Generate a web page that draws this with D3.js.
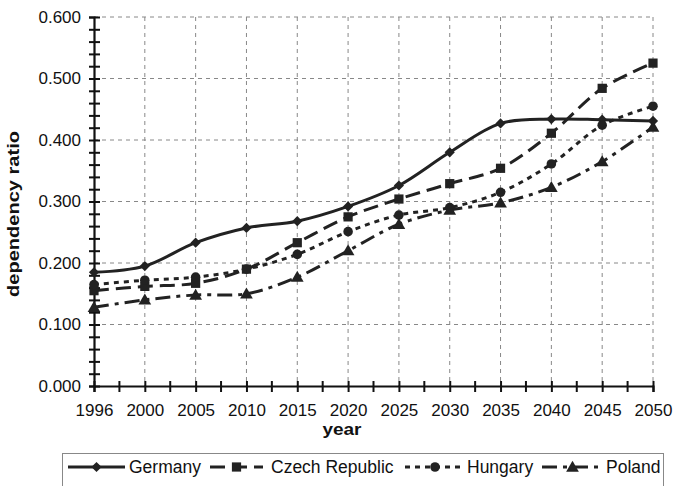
<!DOCTYPE html>
<html>
<head>
<meta charset="utf-8">
<script src="https://cdn.jsdelivr.net/npm/d3@7"></script>
<style>
  body { margin: 0; background: #fff; }
  text { font-family: "Liberation Sans", Arial, sans-serif; fill: #111; }
</style>
</head>
<body>
<div id="chart"></div>
<script>
// values
var years = ["1996", "2000", "2005", "2010", "2015", "2020", "2025", "2030", "2035", "2040", "2045", "2050"];
var germany = [0.185, 0.195, 0.233, 0.257, 0.268, 0.292, 0.326, 0.380, 0.427, 0.434, 0.433, 0.431];
var czech   = [0.155, 0.162, 0.167, 0.190, 0.233, 0.275, 0.304, 0.329, 0.354, 0.411, 0.484, 0.525];
var hungary = [0.165, 0.172, 0.177, 0.190, 0.214, 0.251, 0.278, 0.290, 0.315, 0.361, 0.424, 0.455];
var poland  = [0.128, 0.140, 0.148, 0.150, 0.177, 0.220, 0.263, 0.286, 0.298, 0.323, 0.365, 0.421];
var names = ["Germany", "Czech Republic", "Hungary", "Poland"];
var yTicks = [0, 0.1, 0.2, 0.3, 0.4, 0.5, 0.6];

var width = 673, height = 486;

var series = [
  { name: names[0], values: germany, dash: null, sym: "diamond" },
  { name: names[1], values: czech, dash: "15,7", sym: "square" },
  { name: names[2], values: hungary, dash: "5,5", sym: "circle" },
  { name: names[3], values: poland, dash: "15,6,4,6", sym: "triangle" }
];

var svg = d3.select("#chart").append("svg")
  .attr("width", width)
  .attr("height", height);

var x = d3.scalePoint().domain(years).range([94, 653]);
var y = d3.scaleLinear().domain([0, 0.6]).range([386, 17]);

// grid
var grid = svg.append("g");
grid.selectAll("line.h")
  .data(yTicks.slice(1))
  .enter().append("line")
  .attr("x1", x(years[0])).attr("x2", x(years[years.length - 1]))
  .attr("y1", function(d) { return y(d); })
  .attr("y2", function(d) { return y(d); })
  .attr("stroke", "#888").attr("stroke-width", 1)
  .attr("stroke-dasharray", "4,4");
grid.selectAll("line.v")
  .data(years.slice(1))
  .enter().append("line")
  .attr("x1", function(d) { return x(d); })
  .attr("x2", function(d) { return x(d); })
  .attr("y1", y(0.6)).attr("y2", y(0))
  .attr("stroke", "#888").attr("stroke-width", 1)
  .attr("stroke-dasharray", "4,4");

// y axis
var minorY = d3.range(0, 31).map(function(i) { return i * 0.02; });
var yAxis = svg.append("g")
  .attr("transform", "translate(" + x(years[0]) + ",0)")
  .call(d3.axisLeft(y).tickValues(minorY).tickSize(5).tickPadding(8)
    .tickFormat(function(d) {
      var r = Math.round(d * 50);
      return r % 5 === 0 ? d3.format(".3f")(d) : "";
    }));
yAxis.select(".domain").attr("stroke", "#111").attr("stroke-width", 2.2);
yAxis.selectAll(".tick line").attr("x1", -5).attr("x2", 6)
  .attr("stroke", "#111").attr("stroke-width", 2);
yAxis.selectAll(".tick text").attr("font-size", 17).attr("x", -13)
  .style("font-family", "'Liberation Sans', Arial, sans-serif").attr("fill", "#111");

// x axis
var xAxis = svg.append("g")
  .attr("transform", "translate(0," + y(0) + ")")
  .call(d3.axisBottom(x).tickSize(6).tickPadding(12));
xAxis.select(".domain").attr("stroke", "#111").attr("stroke-width", 2.2);
xAxis.selectAll(".tick line").attr("y1", -5).attr("y2", 6)
  .attr("stroke", "#111").attr("stroke-width", 2);
xAxis.selectAll(".tick text").attr("font-size", 17)
  .style("font-family", "'Liberation Sans', Arial, sans-serif").attr("fill", "#111");
var mids = d3.pairs(years).map(function(p) { return (x(p[0]) + x(p[1])) / 2; });
xAxis.selectAll("line.minor")
  .data(mids)
  .enter().append("line")
  .attr("x1", function(d) { return d; }).attr("x2", function(d) { return d; })
  .attr("y1", -5).attr("y2", 6)
  .attr("stroke", "#111").attr("stroke-width", 2);

// axis titles
svg.append("text")
  .attr("transform", "translate(19,214) rotate(-90)")
  .attr("text-anchor", "middle")
  .attr("font-size", 16).attr("font-weight", "bold")
  .attr("textLength", 166).attr("lengthAdjust", "spacingAndGlyphs")
  .text("dependency ratio");
svg.append("text")
  .attr("x", 342).attr("y", 435)
  .attr("text-anchor", "middle")
  .attr("font-size", 17).attr("font-weight", "bold")
  .attr("textLength", 39).attr("lengthAdjust", "spacingAndGlyphs")
  .text("year");

// markers
function marker(sel, sym, cx, cy) {
  if (sym === "diamond") {
    sel.append("path")
      .attr("d", d3.symbol().type(d3.symbolSquare).size(52)())
      .attr("transform", "translate(" + cx + "," + cy + ") rotate(45)")
      .attr("fill", "#222");
  } else if (sym === "square") {
    sel.append("path")
      .attr("d", d3.symbol().type(d3.symbolSquare).size(85)())
      .attr("transform", "translate(" + cx + "," + cy + ")")
      .attr("fill", "#222");
  } else if (sym === "circle") {
    sel.append("path")
      .attr("d", d3.symbol().type(d3.symbolCircle).size(72)())
      .attr("transform", "translate(" + cx + "," + cy + ")")
      .attr("fill", "#222");
  } else {
    sel.append("path")
      .attr("d", d3.symbol().type(d3.symbolTriangle).size(70)())
      .attr("transform", "translate(" + cx + "," + (cy + 1) + ")")
      .attr("fill", "#222");
  }
}

var line = d3.line()
  .x(function(d, i) { return x(years[i]); })
  .y(function(d) { return y(d); })
  .curve(d3.curveCatmullRom.alpha(0.5));

series.forEach(function(s) {
  var g = svg.append("g");
  g.append("path")
    .attr("d", line(s.values))
    .attr("fill", "none")
    .attr("stroke", "#222")
    .attr("stroke-width", 3)
    .attr("stroke-dasharray", s.dash);
  s.values.forEach(function(v, i) {
    marker(g, s.sym, x(years[i]), y(v));
  });
});

// legend
var legend = svg.append("g");
legend.append("rect")
  .attr("x", 62.5).attr("y", 453.5)
  .attr("width", 601).attr("height", 45)
  .attr("fill", "#fff").attr("stroke", "#888").attr("stroke-width", 1);

var legX = [68, 210, 405, 542];
var legW = [57, 53, 60, 61];
var textX = [129, 271, 467, 606];
series.forEach(function(s, i) {
  var ly = 467;
  legend.append("line")
    .attr("x1", legX[i]).attr("x2", legX[i] + legW[i])
    .attr("y1", ly).attr("y2", ly)
    .attr("stroke", "#222").attr("stroke-width", 3)
    .attr("stroke-dasharray", s.dash);
  marker(legend, s.sym, legX[i] + legW[i] / 2, ly);
  legend.append("text")
    .attr("x", textX[i]).attr("y", ly + 6)
    .attr("font-size", 17.5)
    .text(s.name);
});
</script>
</body>
</html>
